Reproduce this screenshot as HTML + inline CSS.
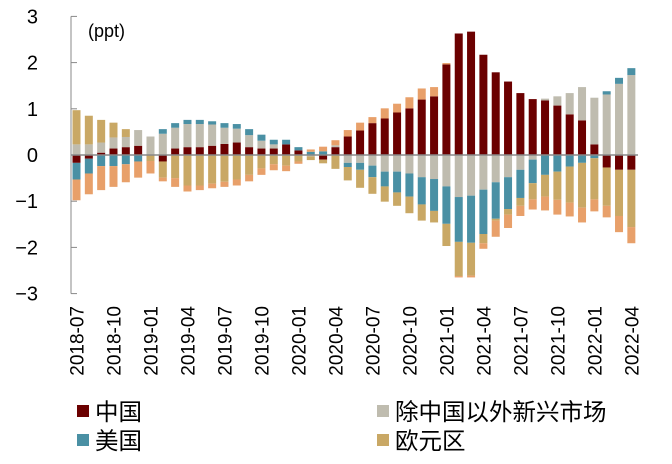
<!DOCTYPE html>
<html><head><meta charset="utf-8"><style>
body{margin:0;background:#fff;}
svg text{font-family:"Liberation Sans","Noto Sans CJK SC",sans-serif;}
</style></head><body>
<svg id="chart" width="672" height="459" xmlns="http://www.w3.org/2000/svg">
<g id="bars"></g>
<g id="axes"></g>
<text x="88" y="37" font-size="18" fill="#000">(ppt)</text>
<g>
<g><rect x="77" y="405" width="12" height="12" fill="#6B0000"/><text x="95" y="420" font-size="23.5">中国</text></g>
<g><rect x="77" y="434" width="12" height="12" fill="#4A90A4"/><text x="95" y="449" font-size="23.5">美国</text></g>
<g><rect x="377" y="405" width="12" height="12" fill="#BFBCAF"/><text x="395" y="420" font-size="23.5">除中国以外新兴市场</text></g>
<g><rect x="377" y="434" width="12" height="12" fill="#C9A865"/><text x="395" y="449" font-size="23.5">欧元区</text></g>
</g>
</svg>
<script>
const startYear = 2018, startMonth = 7;
const china = [-0.17,-0.08,0.05,0.14,0.17,0.2,0,-0.14,0.14,0.17,0.17,0.2,0.24,0.27,0.17,0.14,0.14,0.23,0.1,0,-0.1,0.17,0.4,0.53,0.69,0.79,0.92,1.01,1.2,1.27,1.96,2.63,2.67,2.17,1.79,1.59,1.34,1.21,1.18,1.07,0.88,0.75,0.23,-0.27,-0.32,-0.32];
const otherEM = [0.23,0.23,0.22,0.24,0.22,0.34,0.4,0.46,0.45,0.5,0.5,0.46,0.35,0.3,0.26,0.17,0.09,0,0,-0.03,0,0.04,-0.17,-0.17,-0.23,-0.36,-0.36,-0.4,-0.48,-0.52,-0.68,-0.91,-0.88,-0.75,-0.59,-0.48,-0.32,-0.1,0.04,0.2,0.46,0.72,1.01,1.31,1.54,1.73];
const us = [-0.36,-0.32,-0.24,-0.24,-0.2,-0.14,0,0.1,0.1,0.09,0.09,0.07,0.1,0.1,0.13,0.13,0.1,0.1,0.07,0.07,0.08,0,-0.09,-0.15,-0.25,-0.32,-0.45,-0.5,-0.59,-0.69,-0.81,-0.97,-1.02,-0.96,-0.79,-0.69,-0.61,-0.51,-0.43,-0.36,-0.25,-0.17,-0.07,0.07,0.13,0.15];
const euro = [0.74,0.62,0.49,0.32,0.17,0,-0.13,-0.35,-0.5,-0.66,-0.66,-0.62,-0.58,-0.53,-0.43,-0.29,-0.2,-0.23,-0.14,-0.08,-0.08,-0.3,-0.29,-0.39,-0.36,-0.33,-0.29,-0.36,-0.35,-0.25,-0.48,-0.74,-0.71,-0.2,-0.04,-0.12,-0.17,-0.35,-0.47,-0.61,-0.78,-0.97,-0.89,-0.83,-1.0,-1.24];
const others = [-0.45,-0.45,-0.52,-0.45,-0.39,-0.35,-0.27,-0.08,-0.19,-0.13,-0.1,-0.1,-0.11,-0.13,-0.14,-0.14,-0.13,-0.12,-0.05,0.05,0.1,0.11,0.14,0.17,0.13,0.22,0.19,0.24,0.24,0.2,0.03,-0.03,-0.04,-0.12,-0.35,-0.29,-0.22,-0.22,-0.3,-0.32,-0.3,-0.32,-0.26,-0.25,-0.35,-0.35];
const yTicks = [3,2,1,0,-1,-2,-3];
const tickLabels = ["2018-07","2018-10","2019-01","2019-04","2019-07","2019-10","2020-01","2020-04","2020-07","2020-10","2021-01","2021-04","2021-07","2021-10","2022-01","2022-04"];

const NS="http://www.w3.org/2000/svg";
const series=[{v:china,c:"#6B0000",n:"china"},{v:otherEM,c:"#BFBCAF",n:"other-em"},{v:us,c:"#4A90A4",n:"us"},{v:euro,c:"#C9A865",n:"euro"},{v:others,c:"#E8A06A",n:"others"}];
const y0=155, unit=46.2, x0=76.5, step=12.33, bw=8;
function yS(v){return y0-v*unit;}
function xS(i){return x0+i*step;}
const bars=document.getElementById('bars');
const axes=document.getElementById('axes');
function el(t,a,p){const e=document.createElementNS(NS,t);for(const k in a)e.setAttribute(k,a[k]);p.appendChild(e);return e;}
const n=china.length;
for(let i=0;i<n;i++){
  let pos=0,neg=0;
  series.forEach(s=>{
    const v=s.v[i]; if(!v) return;
    let a,b;
    if(v>0){a=pos;b=pos+v;pos=b;}else{a=neg;b=neg+v;neg=b;}
    const r=el('rect',{x:xS(i)-bw/2,y:Math.min(yS(a),yS(b)),width:bw,height:Math.abs(yS(a)-yS(b)),fill:s.c},bars);
    
    
  });
}
const yl=el('line',{x1:71,y1:yS(3),x2:71,y2:yS(-3),stroke:'#888','stroke-width':1},axes);


const zl=el('line',{x1:71,y1:y0,x2:638,y2:y0,stroke:'#888','stroke-width':1.5},axes);


yTicks.forEach(t=>{
  el('line',{x1:71,y1:yS(t),x2:77,y2:yS(t),stroke:'#888'},axes);
  const tx=el('text',{x:38,y:yS(t)+7,'font-size':20,'text-anchor':'end',fill:'#000'},axes);
  tx.textContent=(t<0?'\u2212':'')+Math.abs(t);
  
  
});
tickLabels.forEach((lab,k)=>{
  const i=k*3, x=xS(i)+7;
  const tx=el('text',{x:x,y:306,'font-size':19,'text-anchor':'end',transform:`rotate(-90 ${x} 306)`,fill:'#000'},axes);
  tx.textContent=lab;
  
  
});
</script>
</body></html>
